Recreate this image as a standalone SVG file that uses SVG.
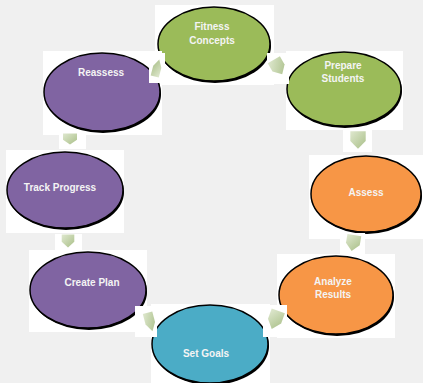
<svg xmlns="http://www.w3.org/2000/svg" width="423" height="383" viewBox="0 0 423 383">
<style>
.bg{fill:#ffffff}
.sh{fill:#000000}
.el{stroke:#000000;stroke-width:1.5}
.g{fill:#9bbb59}.p{fill:#8064a2}.o{fill:#f79646}.b{fill:#4bacc6}
.t{font-family:"Liberation Sans",Arial,sans-serif;font-weight:bold;font-size:10px;fill:#f4f4f4;text-anchor:middle}
.ar{fill:url(#ag)}
</style>
<defs>
<linearGradient id="ag" x1="0" y1="0" x2="1" y2="1">
<stop offset="0" stop-color="#dfe8cf"/>
<stop offset="1" stop-color="#a9bf88"/>
</linearGradient>
<path id="arr" d="M-7,-8 L7,-8 L7,1 L0,8 L-7,1 Z"/>
</defs>
<rect width="423" height="383" fill="#f0f0f0"/>
<g id="n-fitness">
<rect class="bg" x="155" y="5" width="119" height="80"/>
<ellipse class="sh" cx="215" cy="46" rx="56" ry="37"/>
<ellipse class="el g" cx="214" cy="44" rx="56" ry="37"/>
<text class="t" x="212" y="30">Fitness</text>
<text class="t" x="212" y="44">Concepts</text>
</g>
<g id="n-prepare">
<rect class="bg" x="286" y="51" width="117" height="79"/>
<ellipse class="sh" cx="345" cy="91" rx="57" ry="37"/>
<ellipse class="el g" cx="344" cy="89" rx="57" ry="37"/>
<text class="t" x="343" y="69">Prepare</text>
<text class="t" x="343" y="82">Students</text>
</g>
<g id="n-assess">
<rect class="bg" x="309" y="155" width="114" height="84"/>
<ellipse class="sh" cx="367" cy="196" rx="55" ry="38"/>
<ellipse class="el o" cx="366" cy="194" rx="55" ry="38"/>
<text class="t" x="366" y="196">Assess</text>
</g>
<g id="n-analyze">
<rect class="bg" x="277" y="254" width="118" height="84"/>
<ellipse class="sh" cx="337" cy="297" rx="57" ry="39"/>
<ellipse class="el o" cx="336" cy="295" rx="57" ry="39"/>
<text class="t" x="333" y="285">Analyze</text>
<text class="t" x="333" y="298">Results</text>
</g>
<g id="n-setgoals">
<rect class="bg" x="151" y="304" width="119" height="79"/>
<ellipse class="sh" cx="211" cy="346" rx="58" ry="39"/>
<ellipse class="el b" cx="210" cy="344" rx="58" ry="39"/>
<text class="t" x="206" y="357">Set Goals</text>
</g>
<g id="n-createplan">
<rect class="bg" x="29" y="250" width="118" height="82"/>
<ellipse class="sh" cx="89" cy="292" rx="58" ry="38"/>
<ellipse class="el p" cx="88" cy="290" rx="58" ry="38"/>
<text class="t" x="92" y="286">Create Plan</text>
</g>
<g id="n-track">
<rect class="bg" x="6" y="150" width="118" height="83"/>
<ellipse class="sh" cx="66" cy="192" rx="58" ry="38"/>
<ellipse class="el p" cx="65" cy="190" rx="58" ry="38"/>
<text class="t" x="60" y="191">Track Progress</text>
</g>
<g id="n-reassess">
<rect class="bg" x="43" y="51" width="119" height="84"/>
<ellipse class="sh" cx="103" cy="94" rx="58" ry="39"/>
<ellipse class="el p" cx="102" cy="92" rx="58" ry="39"/>
<text class="t" x="101" y="76">Reassess</text>
</g>
<g id="connectors">
<rect class="bg" x="149" y="53" width="16" height="30"/>
<use href="#arr" class="ar" transform="translate(157,68) rotate(-165) scale(0.6,1.1)"/>
<rect class="bg" x="267" y="53" width="22" height="31"/>
<use href="#arr" class="ar" transform="translate(278,67) rotate(-30) scale(1,1.05)"/>
<rect class="bg" x="343" y="130" width="29" height="22"/>
<use href="#arr" class="ar" transform="translate(358,140) scale(1.1,1.1)"/>
<rect class="bg" x="59" y="134" width="27" height="15"/>
<use href="#arr" class="ar" transform="translate(70,139) scale(1,0.7)"/>
<rect class="bg" x="55" y="234" width="27" height="16"/>
<use href="#arr" class="ar" transform="translate(68,241) scale(0.9,0.8)"/>
<rect class="bg" x="340" y="233" width="25" height="21"/>
<use href="#arr" class="ar" transform="translate(353,243) rotate(10) scale(1,1)"/>
<rect class="bg" x="263" y="305" width="24" height="32"/>
<use href="#arr" class="ar" transform="translate(275,320) rotate(20) scale(1,1.2)"/>
<rect class="bg" x="135" y="306" width="22" height="31"/>
<use href="#arr" class="ar" transform="translate(150,322) rotate(-15) scale(0.7,1.2)"/>
</g>
</svg>
